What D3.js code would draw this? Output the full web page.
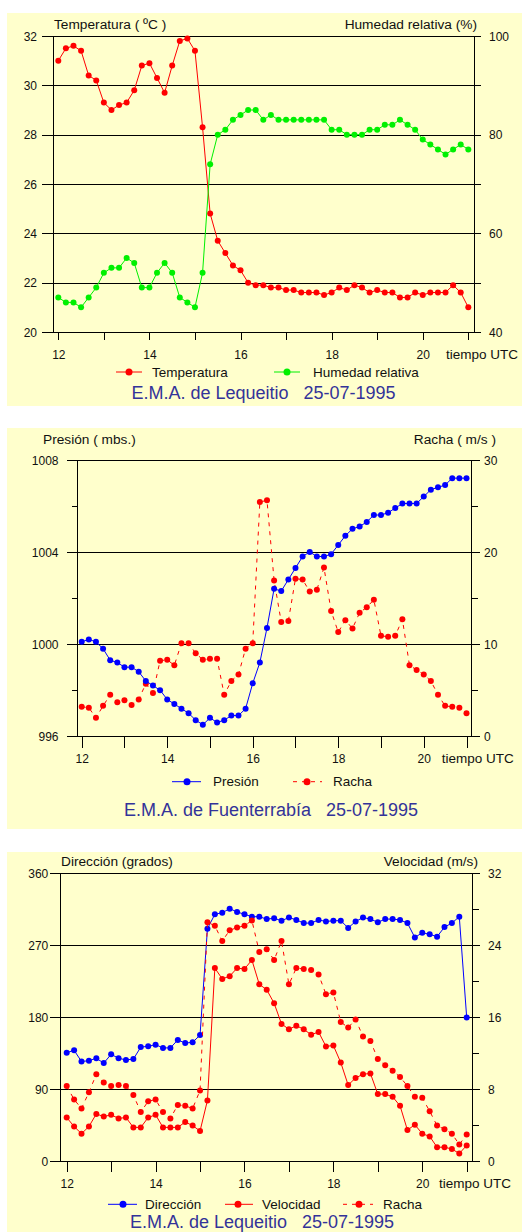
<!DOCTYPE html>
<html><head><meta charset="utf-8">
<script src="https://cdn.jsdelivr.net/npm/d3@7"></script>
<style>
body{margin:0;background:#fff}
svg{display:block}
text{font-family:"Liberation Sans",Arial,Helvetica,sans-serif}
</style>
</head><body>
<svg id="c" width="527" height="1232"></svg>
<script>
// ---------- DATA ----------
// time axis: 10-minute readings 12:00 .. 21:00 UTC
const horas = d3.range(55).map(i => 12 + i / 6);
const horaTicks = [12, 13, 14, 15, 16, 17, 18, 19, 20, 21];
const horaLabels = [12, 14, 16, 18, 20];

// Panel 1 - Lequeitio
const temperatura = [31.0,31.5,31.6,31.4,30.4,30.2,29.3,29.0,29.2,29.3,
  29.8,30.8,30.9,30.3,29.7,30.8,31.8,31.9,31.4,28.3,
  24.8,23.7,23.2,22.7,22.5,22.0,21.9,21.9,21.8,21.8,
  21.7,21.7,21.6,21.6,21.6,21.5,21.6,21.8,21.7,21.9,
  21.8,21.6,21.7,21.6,21.6,21.4,21.4,21.6,21.5,21.6,
  21.6,21.6,21.9,21.6,21.0];
const humedad = [47,46,46,45,47,49,52,53,53,55,
  54,49,49,52,54,52,47,46,45,52,
  74,80,81,83,84,85,85,83,84,83,
  83,83,83,83,83,83,81,81,80,80,
  80,81,81,82,82,83,82,81,79,78,
  77,76,77,78,77];
const tempTicks = [20,22,24,26,28,30,32];
const humTicks = [40,60,80,100];

// Panel 2 - Fuenterrabía
const presion = [1000.1,1000.2,1000.1,999.8,999.3,999.2,999.0,999.0,998.8,998.4,
  998.2,998.0,997.6,997.4,997.2,997.0,996.7,996.5,996.8,996.6,
  996.7,996.9,996.9,997.2,998.3,999.2,1000.7,1002.4,1002.3,1002.8,
  1003.3,1003.8,1004.0,1003.8,1003.8,1003.9,1004.3,1004.7,1005.0,1005.1,
  1005.3,1005.6,1005.6,1005.7,1005.9,1006.1,1006.1,1006.1,1006.4,1006.7,
  1006.8,1006.9,1007.2,1007.2,1007.2];
const rachaF = [3.2,3.1,2.0,3.3,4.5,3.7,3.9,3.4,4.0,5.7,
  4.7,8.2,8.3,7.7,10.1,10.1,9.0,8.3,8.4,8.4,
  4.5,6.0,6.7,9.5,10.1,25.4,25.6,16.9,12.4,12.5,
  17.1,17.0,15.7,15.9,18.3,13.6,11.3,12.6,11.7,13.4,
  14.0,14.8,10.9,10.8,10.9,12.7,7.7,7.2,6.7,6.0,
  4.5,3.3,3.2,3.1,2.5];
const presTicks = [996,1000,1004,1008];
const presMinor = [998,1002,1006];
const rachaFTicks = [0,10,20,30];
const rachaFMinor = [5,15,25];

// Panel 3 - Lequeitio wind
const direccion = [135,138,124,125,128,122,133,128,126,127,
  142,143,145,141,141,151,147,148,157,290,
  308,310,315,311,308,305,305,302,303,300,
  304,301,297,297,301,299,300,300,291,299,
  304,302,298,302,302,301,297,279,285,283,
  280,292,297,305,179];
const velocidad = [4.8,3.8,3.0,3.8,5.2,4.9,5.1,4.7,4.8,3.7,
  3.7,4.8,5.1,3.7,3.7,3.7,4.3,3.9,3.3,6.7,
  21.4,20.2,20.5,21.4,21.3,22.3,19.6,19.0,17.5,15.2,
  14.6,15.0,14.6,14.0,14.3,12.7,12.8,10.9,8.4,9.2,
  9.6,9.7,7.4,7.4,7.1,6.1,3.4,4.0,3.0,2.7,
  1.5,1.5,1.3,0.8,1.7];
const rachaL = [8.3,6.8,5.8,7.6,9.6,8.7,8.3,8.4,8.3,7.3,
  5.4,6.6,6.8,5.4,4.7,6.2,6.1,5.8,7.8,26.5,
  26.1,24.4,25.6,25.9,26.1,26.7,23.2,23.5,22.3,24.4,
  19.6,21.4,21.3,21.2,20.7,18.5,18.7,15.4,14.8,15.7,
  13.8,13.3,11.3,10.6,10.0,9.3,8.3,7.1,7.0,5.5,
  3.9,3.5,3.0,1.8,2.9];
const dirTicks = [0,90,180,270,360];
const velTicks = [0,8,16,24,32];
const velMinor = [4,12,20,28];

// ---------- DRAWING ----------
const svg = d3.select('#c');
const BG = '#ffffcc';
const RED = '#ff0000', GREEN = '#00f000', BLUE = '#0000ff';
const TITLE_C = '#333399';
const TXT = '#111';
const fmt = d3.format('d');

function panel(c) {
  const g = svg.append('g');
  g.append('rect').attr('x', 7).attr('y', c.boxTop).attr('width', 515)
    .attr('height', c.boxBottom - c.boxTop).attr('fill', BG);

  const x = d3.scaleLinear().domain([12, 21]).range([c.x0, c.x1]);
  const yL = d3.scaleLinear().domain(c.lDom).range([c.yB, c.yT]);
  const yR = d3.scaleLinear().domain(c.rDom).range([c.yB, c.yT]);

  // gridlines through major ticks
  const grid = g.append('g').attr('transform', `translate(${c.gx0},0)`)
    .call(d3.axisRight(yL).tickValues(c.lTicks).tickSize(c.gx1 - c.gx0).tickFormat(''));
  grid.select('.domain').remove();
  grid.selectAll('line').attr('stroke', '#000').attr('shape-rendering', 'crispEdges');

  // minor ticks
  if (c.lMinor) {
    const m = g.append('g').attr('transform', `translate(${c.axL},0)`)
      .call(d3.axisLeft(yL).tickValues(c.lMinor).tickSize(c.axL - c.minL).tickFormat(''));
    m.select('.domain').remove();
    m.selectAll('line').attr('stroke', '#000').attr('shape-rendering', 'crispEdges');
  }
  if (c.rMinor) {
    const m = g.append('g').attr('transform', `translate(${c.axR},0)`)
      .call(d3.axisRight(yR).tickValues(c.rMinor).tickSize(c.minR - c.axR).tickFormat(''));
    m.select('.domain').remove();
    m.selectAll('line').attr('stroke', '#000').attr('shape-rendering', 'crispEdges');
  }

  // vertical frame lines
  [c.axL, c.axR].forEach(px => g.append('line').attr('x1', px).attr('x2', px)
    .attr('y1', c.yT).attr('y2', c.yB).attr('stroke', '#000').attr('shape-rendering', 'crispEdges'));

  // left labels
  const la = g.append('g').attr('transform', `translate(${c.lLabX},0)`)
    .call(d3.axisLeft(yL).tickValues(c.lTicks).tickSize(0).tickPadding(0).tickFormat(fmt));
  la.select('.domain').remove();
  la.selectAll('text').attr('font-size', 12).attr('fill', TXT).attr('font-family', null)
    .attr('dy', '0.36em');

  // right labels
  const ra = g.append('g').attr('transform', `translate(${c.rLabX},0)`)
    .call(d3.axisRight(yR).tickValues(c.rTicks).tickSize(0).tickPadding(0).tickFormat(fmt));
  ra.select('.domain').remove();
  ra.selectAll('text').attr('font-size', 12).attr('fill', TXT).attr('font-family', null)
    .attr('dy', '0.36em');

  // x ticks
  const xa = g.append('g').attr('transform', `translate(0,${c.yB})`)
    .call(d3.axisBottom(x).tickValues(horaTicks).tickSize(c.xTick).tickFormat(''));
  xa.select('.domain').remove();
  xa.selectAll('line').attr('stroke', '#000').attr('shape-rendering', 'crispEdges');

  // x labels
  const xl = g.append('g').attr('transform', `translate(0,${c.xLabY})`)
    .call(d3.axisBottom(x).tickValues(horaLabels).tickSize(0).tickPadding(0).tickFormat(fmt));
  xl.select('.domain').remove();
  xl.selectAll('text').attr('font-size', 12).attr('fill', TXT).attr('font-family', null)
    .attr('y', 0).attr('dy', 0);

  g.append('text').attr('x', c.tiempoX).attr('y', c.xLabY).attr('font-size', 13.5)
    .attr('fill', TXT).text('tiempo UTC');

  // axis titles
  g.append('text').attr('x', c.tlX).attr('y', c.tY).attr('font-size', 13.7).attr('fill', TXT).text(c.tl);
  g.append('text').attr('x', c.trX).attr('y', c.tY).attr('font-size', 13.7).attr('fill', TXT)
    .attr('text-anchor', 'end').text(c.tr);

  // series
  c.series.forEach(s => {
    const ys = s.axis === 'L' ? yL : yR;
    const pts = horas.map((h, i) => [x(h), ys(s.data[i])]);
    g.append('path').attr('d', d3.line()(pts)).attr('fill', 'none').attr('stroke', s.color)
      .attr('stroke-width', 1).attr('stroke-dasharray', s.dash ? '4,5' : null);
    g.append('g').selectAll('circle').data(pts).join('circle')
      .attr('cx', d => d[0]).attr('cy', d => d[1]).attr('r', 3).attr('fill', s.color);
  });

  // legend
  c.legend.forEach(l => {
    g.append('line').attr('x1', l.a).attr('x2', l.b).attr('y1', c.legY).attr('y2', c.legY)
      .attr('stroke', l.color).attr('stroke-dasharray', l.dash ? '4,5' : null);
    g.append('circle').attr('cx', l.d).attr('cy', c.legY).attr('r', 3.5).attr('fill', l.color);
    g.append('text').attr('x', l.t).attr('y', c.legY + 4.5).attr('font-size', 13.5)
      .attr('fill', TXT).text(l.label);
  });

  // station title
  g.append('text').attr('x', c.footX).attr('y', c.footY).attr('font-size', 18)
    .attr('text-anchor', 'middle').attr('fill', TITLE_C).attr('xml:space', 'preserve')
    .style('white-space', 'pre').text(c.foot);
}

panel({
  boxTop: 13, boxBottom: 406,
  x0: 58.3, x1: 468.3, yT: 36, yB: 332, axL: 53, axR: 474, gx0: 42, gx1: 481,
  lDom: [20, 32], lTicks: tempTicks, rDom: [40, 100], rTicks: humTicks,
  lLabX: 37, rLabX: 489, xTick: 8, xLabY: 359, tiempoX: 446,
  tl: 'Temperatura ( ºC )', tlX: 54, tr: 'Humedad relativa (%)', trX: 477, tY: 29,
  series: [
    {data: temperatura, axis: 'L', color: RED},
    {data: humedad, axis: 'R', color: GREEN}
  ],
  legY: 372,
  legend: [
    {label: 'Temperatura', color: RED, a: 116, b: 142, d: 129, t: 152},
    {label: 'Humedad relativa', color: GREEN, a: 274, b: 300, d: 287, t: 313}
  ],
  foot: 'E.M.A. de Lequeitio   25-07-1995', footX: 263.5, footY: 399
});

panel({
  boxTop: 428, boxBottom: 829,
  x0: 81.7, x1: 466.5, yT: 459.7, yB: 736.3, axL: 77.3, axR: 471.7, gx0: 66.7, gx1: 480,
  lDom: [996, 1008], lTicks: presTicks, lMinor: presMinor, minL: 71.7,
  rDom: [0, 30], rTicks: rachaFTicks, rMinor: rachaFMinor, minR: 478.3,
  lLabX: 58.5, rLabX: 484, xTick: 12, xLabY: 763, tiempoX: 441.7,
  tl: 'Presión ( mbs.)', tlX: 43, tr: 'Racha ( m/s )', trX: 496, tY: 444,
  series: [
    {data: rachaF, axis: 'R', color: RED, dash: true},
    {data: presion, axis: 'L', color: BLUE}
  ],
  legY: 781.7,
  legend: [
    {label: 'Presión', color: BLUE, a: 172, b: 201, d: 187, t: 213},
    {label: 'Racha', color: RED, dash: true, a: 293, b: 322, d: 307, t: 333}
  ],
  foot: 'E.M.A. de Fuenterrabía   25-07-1995', footX: 271, footY: 815.7
});

panel({
  boxTop: 852, boxBottom: 1232,
  x0: 66.7, x1: 466.7, yT: 872.7, yB: 1160.7, axL: 60.7, axR: 472.7, gx0: 50, gx1: 480,
  lDom: [0, 360], lTicks: dirTicks, rDom: [0, 32], rTicks: velTicks, rMinor: velMinor, minR: 479.3,
  lLabX: 48.3, rLabX: 488, xTick: 11, xLabY: 1188, tiempoX: 439,
  tl: 'Dirección (grados)', tlX: 61, tr: 'Velocidad (m/s)', trX: 478, tY: 866,
  series: [
    {data: direccion, axis: 'L', color: BLUE},
    {data: velocidad, axis: 'R', color: RED},
    {data: rachaL, axis: 'R', color: RED, dash: true}
  ],
  legY: 1204.3,
  legend: [
    {label: 'Dirección', color: BLUE, a: 108, b: 137, d: 123, t: 145},
    {label: 'Velocidad', color: RED, a: 225, b: 253, d: 238, t: 262},
    {label: 'Racha', color: RED, dash: true, a: 343, b: 373, d: 359, t: 383}
  ],
  foot: 'E.M.A. de Lequeitio   25-07-1995', footX: 262, footY: 1228
});
</script>
</body></html>
